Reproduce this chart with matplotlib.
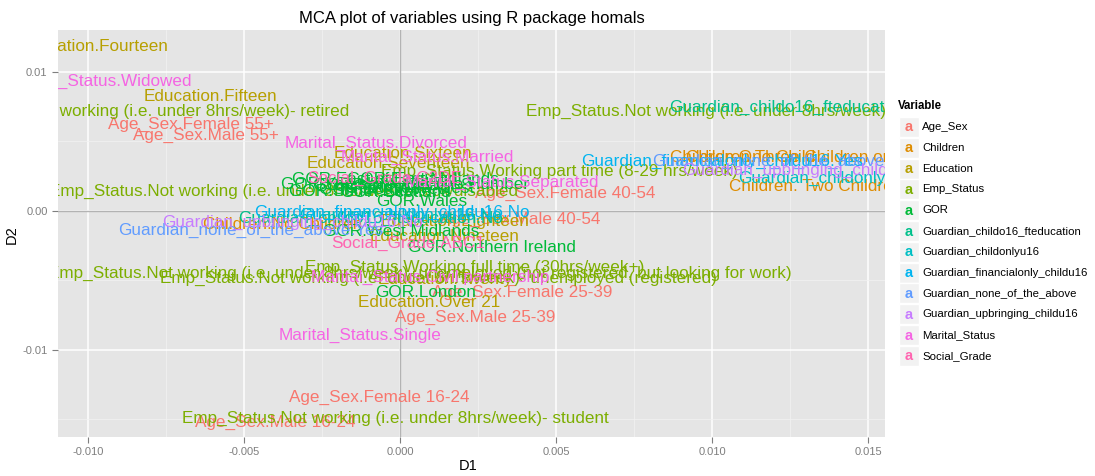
import matplotlib
matplotlib.use("Agg")
import matplotlib.pyplot as plt
from matplotlib.patches import Rectangle

# ---------------- data ----------------
variables = ["Age_Sex", "Children", "Education", "Emp_Status", "GOR",
             "Guardian_childo16_fteducation", "Guardian_childonlyu16",
             "Guardian_financialonly_childu16", "Guardian_none_of_the_above",
             "Guardian_upbringing_childu16", "Marital_Status", "Social_Grade"]
palette = ["#F8766D", "#DE8C00", "#B79F00", "#7CAE00", "#00BA38", "#00C08B",
           "#00BFC4", "#00B4F0", "#619CFF", "#C77CFF", "#F564E3", "#FF64B0"]

NW = "Not working (i.e. under 8hrs/week)- "
labels = [
    "Age_Sex.Female 55+", "Age_Sex.Male 55+", "Age_Sex.Female 40-54", "Age_Sex.Male 40-54",
    "Age_Sex.Female 25-39", "Age_Sex.Male 25-39", "Age_Sex.Female 16-24", "Age_Sex.Male 16-24",
    "Children.No Children", "Children.One Child", "Children. Two Children",
    "Children.Three Children or more",
    "Education.Fourteen", "Education.Fifteen", "Education.Sixteen", "Education.Seventeen",
    "Education.Eighteen", "Education.Nineteen", "Education.Twenty", "Education.Over 21",
    "Emp_Status." + NW + "retired", "Emp_Status." + NW + "looking after house/children",
    "Emp_Status." + NW + "sick/disabled",
    "Emp_Status." + NW + "unemployed (not registered, but looking for work)",
    "Emp_Status." + NW + "unemployed (registered)", "Emp_Status." + NW + "student",
    "Emp_Status.Working part time (8-29 hrs/week)", "Emp_Status.Working full time (30hrs/week+)",
    "GOR.East of England", "GOR.East Midlands", "GOR.South East", "GOR.South West",
    "GOR.North East", "GOR.North West", "GOR.Scotland", "GOR.Yorkshire and The Humber",
    "GOR.Wales", "GOR.West Midlands", "GOR.Northern Ireland", "GOR.London",
    "Guardian_childo16_fteducation.Yes", "Guardian_childo16_fteducation.No",
    "Guardian_childonlyu16.Yes", "Guardian_childonlyu16.No",
    "Guardian_financialonly_childu16.Yes", "Guardian_financialonly_childu16.No",
    "Guardian_none_of_the_above.Yes", "Guardian_none_of_the_above.No",
    "Guardian_upbringing_childu16.Yes", "Guardian_upbringing_childu16.No",
    "Marital_Status.Widowed", "Marital_Status.Divorced", "Marital_Status.Married",
    "Marital_Status.Separated", "Marital_Status.Single", "Marital_Status.Civil partnership",
    "Social_Grade.C2DE", "Social_Grade.ABC1",
]
group = [0]*8 + [1]*4 + [2]*8 + [3]*8 + [4]*12 + [5]*2 + [6]*2 + [7]*2 + [8]*2 + [9]*2 + [10]*6 + [11]*2

D1 = [-0.00670, -0.00622, 0.00529, 0.00385, 0.00391, 0.00240, -0.00067, -0.00401,
      -0.00375, 0.01096, 0.01333, 0.01311,
      -0.00981, -0.00609, 0.00010, -0.00038, 0.00176, 0.00144, 0.00144, 0.00093,
      -0.00834, 0.01335, -0.00375, 0.00064, 0.00122, -0.00016, 0.00510, 0.00240,
      -0.00083, 0.00074, -0.00151, -0.00048, -0.00080, 0.00032, -0.00016, 0.00016,
      0.00070, 0.00003, 0.00295, 0.00083,
      0.01298, -0.00096, 0.01417, 0.00000, 0.01032, -0.00026, -0.00478, 0.01224,
      0.01333, -0.00345,
      -0.00962, -0.00077, 0.00087, 0.00327, -0.00128, 0.00096,
      -0.00051, 0.00026]
D2 = [0.00626, 0.00540, 0.00129, -0.00058, -0.00583, -0.00763, -0.01338, -0.01518,
      -0.00094, 0.00388, 0.00173, 0.00388,
      0.01180, 0.00820, 0.00417, 0.00345, -0.00079, -0.00187, -0.00496, -0.00655,
      0.00719, 0.00719, 0.00144, -0.00446, -0.00482, -0.01489, 0.00281, -0.00403,
      0.00223, 0.00223, 0.00137, 0.00151, 0.00180, 0.00165, 0.00130, 0.00187,
      0.00065, -0.00151, -0.00266, -0.00583,
      0.00748, -0.00050, 0.00237, -0.00029, 0.00353, -0.00014, -0.00137, 0.00360,
      0.00295, -0.00079,
      0.00935, 0.00489, 0.00388, 0.00209, -0.00892, -0.00475,
      0.00237, -0.00230]

xticks = [-0.010, -0.005, 0.000, 0.005, 0.010, 0.015]
xticklabels = ["-0.010", "-0.005", "0.000", "0.005", "0.010", "0.015"]
yticks = [-0.01, 0.00, 0.01]
yticklabels = ["-0.01", "0.00", "0.01"]

# ---------------- figure ----------------
plt.rcParams['font.family'] = ['Liberation Sans', 'DejaVu Sans']
W, H = 1095, 476
fig = plt.figure(figsize=(W/100, H/100), dpi=100)
L, R, T, B = 58, 885, 30, 437
ax = fig.add_axes([L/W, 1-B/H, (R-L)/W, (B-T)/H])
ax.set_facecolor("#E5E5E5")
ax.set_xlim(-0.01096, 0.01554)
ax.set_ylim(-0.01626, 0.01302)
for s in ax.spines.values():
    s.set_visible(False)

ax.set_xticks(xticks)
ax.set_xticklabels(xticklabels)
ax.set_yticks(yticks)
ax.set_yticklabels(yticklabels)
ax.set_xticks([-0.0075, -0.0025, 0.0025, 0.0075, 0.0125], minor=True)
ax.set_yticks([-0.015, -0.005, 0.005], minor=True)
ax.grid(which='major', color='white', linewidth=1.1)
ax.grid(which='minor', color='#F2F2F2', linewidth=0.5)
ax.set_axisbelow(True)
ax.tick_params(which='major', length=4, color='#7F7F7F', labelcolor='#7F7F7F',
               labelsize=8)
ax.tick_params(which='minor', length=0)

ax.axhline(0, color='#B3B3B3', linewidth=1.0, zorder=1)
ax.axvline(0, color='#B3B3B3', linewidth=1.0, zorder=1)

for lab, g, x, y in zip(labels, group, D1, D2):
    ax.text(x, y, lab, color=palette[g], fontsize=12.3, ha='center', va='center',
            clip_on=True, zorder=3)

fig.text((L+R)/2/W, 1-18/H, "MCA plot of variables using R package homals",
         ha='center', va='center', fontsize=12, color='black')
fig.text(468/W, 1-466/H, "D1", ha='center', va='center', fontsize=10.5)
fig.text(12/W, 1-235/H, "D2", ha='center', va='center', fontsize=10.5, rotation=90)

# legend
fig.text(898/W, 1-106/H, "Variable", ha='left', va='center', fontsize=8.3,
         fontweight='bold')
y0, dy = 127, 20.8
for i, (v, c) in enumerate(zip(variables, palette)):
    yc = y0 + i*dy
    fig.add_artist(Rectangle((899/W, 1-(yc+10)/H), 20/W, 20/H,
                             transform=fig.transFigure, facecolor='#F2F2F2',
                             edgecolor='white', linewidth=1))
    fig.text(909/W, 1-(yc+0.5)/H, "a", color=c, ha='center', va='center',
             fontsize=10.5, fontweight='bold')
    fig.text(922/W, 1-yc/H, v, ha='left', va='center', fontsize=8.2, color='black')

fig.savefig("out.png", dpi=100)
